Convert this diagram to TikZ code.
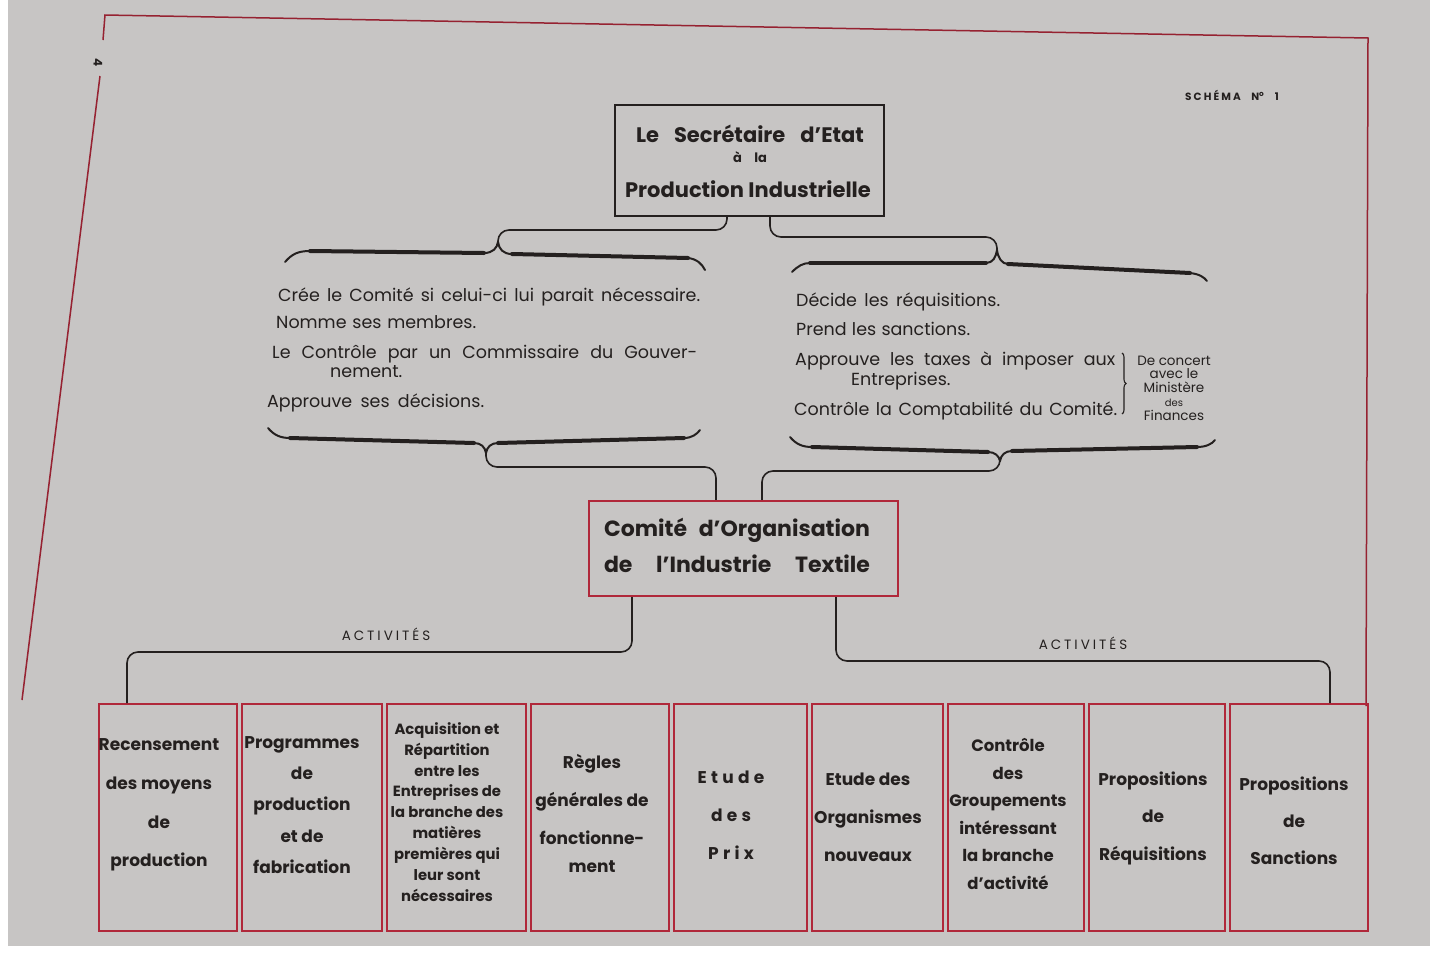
\documentclass[tikz,border=0pt]{standalone}
\usepackage{fontspec}
\setmainfont{Poppins}
\usetikzlibrary{decorations.pathreplacing}
\definecolor{paper}{RGB}{199,197,196}
\definecolor{ink}{RGB}{36,32,31}
\definecolor{redline}{RGB}{176,40,58}
\newcommand\fs[2]{\fontsize{#1}{#2}\selectfont}
\newcommand\lsp[1]{\addfontfeatures{LetterSpace=#1}}
\tikzset{
  txt/.style={text=ink, inner sep=0pt, font=\fs{17.5}{20}},
  ltxt/.style={txt, anchor=base west},
  bthick/.style={draw=ink, line width=4pt, line cap=round},
  bthin/.style={draw=ink, line width=2pt, line cap=round},
  conn/.style={draw=ink, line width=1.6pt, rounded corners=11pt},
  secbox/.style={draw=ink, line width=2pt, minimum width=269pt, minimum height=111pt, inner sep=0pt},
  combox/.style={draw=redline, line width=2.4pt, minimum width=309pt, minimum height=95pt, inner sep=0pt},
  cell/.style={draw=redline, line width=2.2pt, minimum height=227pt, inner sep=0pt, anchor=north west},
  celltext/.style={text=ink, font=\bfseries\fs{17}{38}, align=center, inner sep=0pt},
  frame/.style={draw=redline!85!black, line width=1.5pt},
}
\begin{document}
\begin{tikzpicture}[x=1pt,y=-1pt]
\useasboundingbox (0,0) rectangle (1430,956);
\fill[white] (0,0) rectangle (1430,956);
\fill[paper] (8,0) rectangle (1430,946);

% frame
\draw[frame] (103,40) -- (105,15) -- (1368,38) -- (1366,706);
\draw[frame] (100,76) -- (22,700);
\node[txt, font=\bfseries\fs{12}{14}, rotate=-90] (pagenum) at (98,63) {4};
\node[txt, font=\bfseries\fs{10.5}{12}\lsp{20}] (schema) at (1232,95) {SCHÉMA\quad N\textsuperscript{o}\quad 1};

% top box
\node[secbox] (sec) at (749.5,160) {};
\node[txt, font=\bfseries\fs{21}{24}] (sec1) at (750,134) {\makebox[228pt][s]{Le Secrétaire d’Etat}};
\node[txt, font=\bfseries\fs{13}{15}] (sec2) at (750,157) {\makebox[34pt][s]{à la}};
\node[txt, font=\bfseries\fs{21}{24}] (sec3) at (748,189) {Production Industrielle};

% top braces
\coordinate (tlT) at (498,242);
\draw[bthin] (285,262) .. controls (292,254) and (298,251) .. (310,251);
\draw[bthick] (310,251) -- (484,253);
\draw[bthin] (484,253) .. controls (493,253) and (497,248) .. (tlT);
\draw[bthin] (tlT) .. controls (499,249) and (503,254) .. (512,254);
\draw[bthick] (512,254) -- (688,258);
\draw[bthin] (688,258) .. controls (697,259) and (702,264) .. (705,270);

\coordinate (trT) at (997,250);
\draw[bthin] (792,272) .. controls (798,266) and (803,263) .. (810,263);
\draw[bthick] (810,263) -- (986,263);
\draw[bthin] (986,263) .. controls (993,263) and (996,257) .. (trT);
\draw[bthin] (trT) .. controls (998,258) and (1002,264) .. (1008,264);
\draw[bthick] (1008,264) -- (1190,273);
\draw[bthin] (1190,273) .. controls (1199,274) and (1204,277) .. (1207,281);

\coordinate (tlK) at (498,230);
\coordinate (trK) at (997,237);
\draw[conn] ([xshift=-22.5pt]sec.south) |- (tlK) -- (tlT);
\draw[conn] ([xshift=20.5pt]sec.south) |- (trK) -- (trT);

% left text
\node[ltxt] (l1) at (278,301) {\makebox[422pt][s]{Crée le Comité si celui-ci lui parait nécessaire.}};
\node[ltxt] (l2) at (276,328) {\makebox[200pt][s]{Nomme ses membres.}};
\node[ltxt] (l3) at (272,358) {\makebox[425pt][s]{Le Contrôle par un Commissaire du Gouver-}};
\node[ltxt] (l4) at (330,377) {nement.};
\node[ltxt] (l5) at (267,407) {\makebox[217pt][s]{Approuve ses décisions.}};

% right text
\node[ltxt] (r1) at (796,306) {\makebox[204pt][s]{Décide les réquisitions.}};
\node[ltxt] (r2) at (796,335) {\makebox[174pt][s]{Prend les sanctions.}};
\node[ltxt] (r3) at (795,365) {\makebox[320pt][s]{Approuve les taxes à imposer aux}};
\node[ltxt] (r4) at (851,385) {Entreprises.};
\node[ltxt] (r5) at (794,415) {\makebox[323pt][s]{Contrôle la Comptabilité du Comité.}};
\draw[draw=ink, line width=1.1pt, decorate, decoration={brace, amplitude=4pt}] (1122,353) -- (1122,414);
\node[txt, font=\fs{13.5}{13.8}, align=center] (concert) at (1174,388)
  {De concert\\avec le\\Ministère\\{\fs{10}{13.8}des}\\Finances};

% bottom braces
\coordinate (blT) at (486,453);
\draw[bthin] (268,428) .. controls (274,435) and (280,438) .. (290,438);
\draw[bthick] (290,438) -- (474,443);
\draw[bthin] (474,443) .. controls (481,443) and (485,447) .. (blT);
\draw[bthin] (blT) .. controls (487,447) and (491,443) .. (498,443);
\draw[bthick] (498,443) -- (684,438);
\draw[bthin] (684,438) .. controls (692,438) and (697,434) .. (700,430);

\coordinate (brT) at (1000,461);
\draw[bthin] (790,437) .. controls (796,444) and (802,447) .. (812,447);
\draw[bthick] (812,447) -- (988,452);
\draw[bthin] (988,452) .. controls (995,452) and (999,456) .. (brT);
\draw[bthin] (brT) .. controls (1001,455) and (1005,451) .. (1012,451);
\draw[bthick] (1012,451) -- (1197,447);
\draw[bthin] (1197,447) .. controls (1206,447) and (1212,444) .. (1215,440);

% comite box
\node[combox] (com) at (743.5,548.5) {};
\node[txt, font=\bfseries\fs{22}{26}] (com1) at (737,530) {\makebox[266pt][s]{Comité d’Organisation}};
\node[txt, font=\bfseries\fs{22}{26}] (com2) at (737,564) {\makebox[266pt][s]{de l’Industrie Textile}};

\coordinate (blK) at (716,467);
\coordinate (brK) at (762,471);
\draw[conn] (blT) |- (blK) -- ([xshift=-27.5pt]com.north);
\draw[conn] (brT) |- (brK) -- ([xshift=18.5pt]com.north);

% cells
\foreach \n/\a/\b in {c1/95/238, c2/238/383, c3/383/527, c4/527/670, c5/670/808, c6/808/944, c7/944/1085, c8/1085/1226, c9/1226/1369}{
  \node[cell, minimum width={(\b-\a-5)*1pt}] (\n) at (\a+2.5,703) {};
}

% activites connectors
\coordinate (actL) at (127,652);
\coordinate (actR) at (1330,661);
\draw[conn] ([xshift=-111.5pt]com.south) |- (actL) -- (actL |- c1.north);
\draw[conn] ([xshift=92.5pt]com.south) |- (actR) -- (actR |- c9.north);
\node[txt, font=\fs{13.5}{15}\lsp{22}] (act1) at (386,634) {ACTIVITÉS};
\node[txt, font=\fs{13.5}{15}\lsp{22}] (act2) at (1083,643) {ACTIVITÉS};

% cell texts
\node[celltext, font=\bfseries\fs{17}{38.7}] (t1) at (159,805) {Recensement\\des moyens\\de\\production};
\node[celltext, font=\bfseries\fs{17}{31.3}] (t2) at (302,805) {Programmes\\de\\production\\et de\\fabrication};
\node[celltext, font=\bfseries\fs{14.8}{20.9}] (t3) at (447,812) {Acquisition et\\Répartition\\entre les\\Entreprises de\\la branche des\\matières\\premières qui\\leur sont\\nécessaires};
\node[celltext, font=\bfseries\fs{17}{38}] (t4) at (592,813) {Règles\\générales de\\fonctionne-\\[-10pt]ment};
\node[celltext, font=\bfseries\fs{17}{38}\lsp{25}] (t5) at (731,815) {Etude\\des\\Prix};
\node[celltext, font=\bfseries\fs{17}{38}] (t6) at (868,817) {Etude des\\Organismes\\nouveaux};
\node[celltext, font=\bfseries\fs{16.5}{27.6}] (t7) at (1008,814) {Contrôle\\des\\Groupements\\intéressant\\la branche\\d’activité};
\node[celltext, font=\bfseries\fs{17}{37.5}] (t8) at (1153,818) {Propositions\\de\\Réquisitions};
\node[celltext, font=\bfseries\fs{17}{37}] (t9) at (1294,821) {Propositions\\de\\Sanctions};
\end{tikzpicture}
\end{document}
